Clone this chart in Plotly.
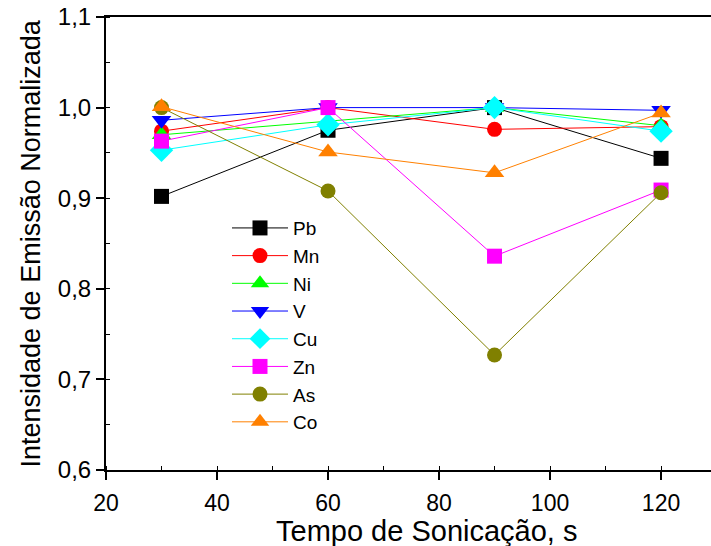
import plotly.graph_objects as go

tempo = [30, 60, 90, 120]
Pb = [0.902, 0.975, 1.000, 0.944]
Mn = [0.974, 1.000, 0.976, 0.979]
Ni = [0.970, 0.985, 1.000, 0.980]
V = [0.986, 1.000, 1.000, 0.997]
Cu = [0.953, 0.981, 1.000, 0.974]
Zn = [0.963, 1.000, 0.836, 0.909]
As = [1.000, 0.908, 0.727, 0.906]
Co = [1.001, 0.951, 0.928, 0.994]

x_title = "Tempo de Sonicação, s"
y_title = "Intensidade de Emissão Normalizada"

series = [
    ("Pb", Pb, "black", "square"),
    ("Mn", Mn, "#FF0000", "circle"),
    ("Ni", Ni, "#00FF00", "triangle-up"),
    ("V", V, "#0000FF", "triangle-down"),
    ("Cu", Cu, "#00FFFF", "diamond"),
    ("Zn", Zn, "#FF00FF", "square"),
    ("As", As, "#808000", "circle"),
    ("Co", Co, "#FF8000", "triangle-up"),
]

FONT = "Arial, Liberation Sans, sans-serif"

fig = go.Figure()
for name, vals, color, sym in series:
    size = 15
    if sym in ("triangle-up", "triangle-down"):
        size = 17
    if sym == "diamond":
        size = 18
    fig.add_trace(go.Scatter(
        x=tempo, y=vals, name=name, mode="lines+markers",
        line=dict(color=color, width=1),
        marker=dict(symbol=sym, color=color, size=size, line=dict(width=0)),
    ))

fig.update_layout(
    width=711, height=546,
    margin=dict(l=106, r=0, t=17, b=76),
    paper_bgcolor="white", plot_bgcolor="white",
    separators=",.",
    font=dict(family=FONT, size=20, color="black"),
    showlegend=True,
    legend=dict(
        x=0.2, y=0.576, xanchor="left", yanchor="top",
        bgcolor="rgba(0,0,0,0)", font=dict(size=19),
        itemwidth=56, tracegroupgap=0,
    ),
    annotations=[
        dict(text=x_title, xref="paper", yref="paper", x=0.53, y=-0.134,
             xanchor="center", yanchor="middle", showarrow=False,
             font=dict(size=29)),
        dict(text=y_title, xref="paper", yref="paper", x=-0.1256, y=0.5,
             xanchor="center", yanchor="middle", showarrow=False, textangle=-90,
             font=dict(size=27)),
    ],
)
fig.update_xaxes(
    range=[20, 129], tickvals=[20, 40, 60, 80, 100, 120],
    ticks="outside", ticklen=8, tickwidth=2, tickcolor="black",
    showline=True, linewidth=2, linecolor="black", mirror=True,
    showgrid=False, zeroline=False, automargin=False,
    tickfont=dict(size=23), ticklabelstandoff=3,
    minor=dict(dtick=10, tick0=0, ticks="inside", ticklen=4, tickwidth=1, tickcolor="black", showgrid=False),
)
fig.update_yaxes(
    range=[0.6, 1.1], tickvals=[0.6, 0.7, 0.8, 0.9, 1.0, 1.1], tickformat=".1f",
    ticks="outside", ticklen=8, tickwidth=2, tickcolor="black",
    showline=True, linewidth=2, linecolor="black", mirror=False,
    showgrid=False, zeroline=False, automargin=False,
    tickfont=dict(size=24),
    minor=dict(dtick=0.05, tick0=0, ticks="inside", ticklen=4, tickwidth=1, tickcolor="black", showgrid=False),
)

fig.write_html("out.html", config={"displayModeBar": False},
               post_script="document.body.style.margin='0px';document.body.style.overflow='hidden';")
